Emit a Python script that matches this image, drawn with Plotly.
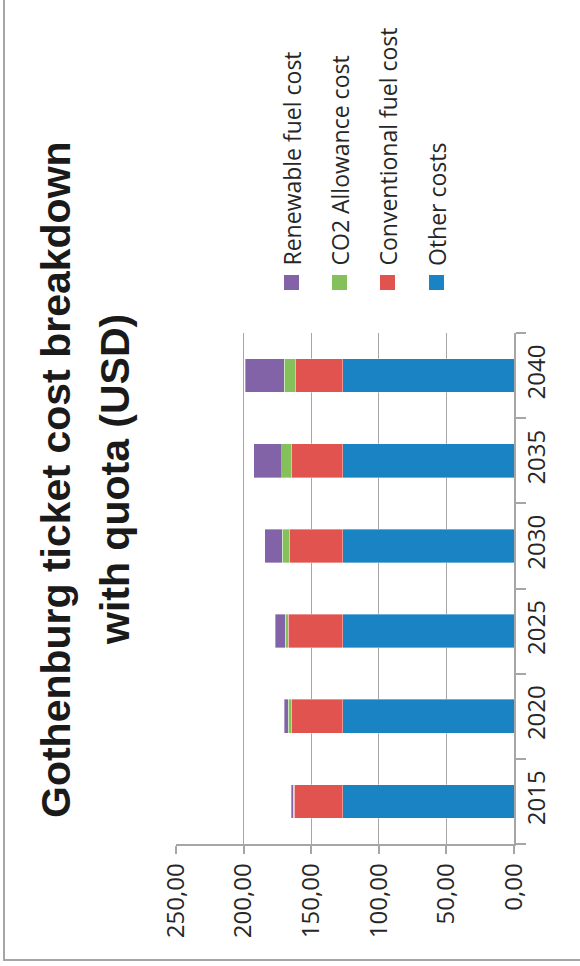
import plotly.graph_objects as go

years = ["2015", "2020", "2025", "2030", "2035", "2040"]
other_costs = [126.5, 126.5, 126.5, 126.5, 126.5, 126.5]
conventional_fuel = [35.9, 38.2, 40.4, 39.7, 38.2, 35.2]
co2_allowance = [0.7, 2.2, 2.3, 5.2, 7.2, 8.4]
renewable_fuel = [1.5, 3.2, 7.4, 13.1, 20.7, 28.6]

series_names = ["Other costs", "Conventional fuel cost", "CO2 Allowance cost", "Renewable fuel cost"]
series_values = [other_costs, conventional_fuel, co2_allowance, renewable_fuel]
colors = ["#1A83C3", "#E1534F", "#85C15A", "#8263A8"]

value_ticks = [0, 50, 100, 150, 200, 250]
value_tick_text = ["0,00", "50,00", "100,00", "150,00", "200,00", "250,00"]

W, H = 580, 966
ML, MR, MT, MB = 176, 66, 333, 122
PW = W - ML - MR
PH = H - MT - MB

def px(x):
    return (x - ML) / PW

def py(y):
    return (H - MB - y) / PH

fig = go.Figure()
for name, vals, col in zip(series_names, series_values, colors):
    fig.add_trace(go.Bar(
        y=years, x=vals, name=name, orientation="h",
        marker=dict(color=col, line=dict(color="rgba(255,255,255,0.6)", width=0.6)),
        showlegend=False,
    ))

grid = "#A6A6A6"
tickfont = dict(family="Open Sans, Noto Sans, sans-serif", size=24, color="#262626")

fig.update_layout(
    width=W, height=H,
    margin=dict(l=ML, r=MR, t=MT, b=MB, autoexpand=False),
    barmode="stack", bargap=0.605,
    plot_bgcolor="white", paper_bgcolor="white",
    xaxis=dict(
        range=[250, 0], tickvals=value_ticks, ticktext=value_tick_text,
        tickangle=-90, tickfont=tickfont, showgrid=True, gridcolor=grid, gridwidth=1.3,
        showline=True, linecolor=grid, linewidth=1.5, ticks="outside", ticklen=8,
        tickcolor=grid, tickwidth=1.5, zeroline=False,
    ),
    yaxis=dict(
        type="category", categoryorder="array", categoryarray=years, side="right",
        tickangle=-90, tickfont=tickfont, showline=True, linecolor=grid, linewidth=1.5,
        ticks="outside", ticklen=10, tickcolor=grid, tickwidth=1.5, tickson="boundaries",
        showgrid=False, zeroline=False,
    ),
)

shapes = []
annotations = []

# border (left and bottom visible)
shapes.append(dict(type="rect", xref="paper", yref="paper",
                   x0=px(4), x1=px(620), y0=py(960), y1=py(-20),
                   line=dict(color="#A6A6A6", width=2), fillcolor="rgba(0,0,0,0)", layer="below"))

# title
title_font = dict(family="Liberation Sans Narrow, Arial Narrow, sans-serif", size=41, color="#1A1A1A")
annotations.append(dict(xref="paper", yref="paper", x=px(56), y=py(480), xanchor="center", yanchor="middle",
                        text="<b>Gothenburg ticket cost breakdown</b>", textangle=-90, showarrow=False, font=title_font))
annotations.append(dict(xref="paper", yref="paper", x=px(115), y=py(480), xanchor="center", yanchor="middle",
                        text="<b>with quota (USD)</b>", textangle=-90, showarrow=False, font=title_font))

# legend
legend_names = ["Renewable fuel cost", "CO2 Allowance cost", "Conventional fuel cost", "Other costs"]
legend_colors = ["#8263A8", "#85C15A", "#E1534F", "#1A83C3"]
legend_x = [291.5, 339.5, 387.5, 436.5]
legend_font = dict(family="Open Sans, Noto Sans, sans-serif", size=23, color="#262626")
for name, col, cx in zip(legend_names, legend_colors, legend_x):
    shapes.append(dict(type="rect", xref="paper", yref="paper",
                       x0=px(cx - 7.5), x1=px(cx + 7.5), y0=py(290), y1=py(275),
                       line=dict(width=0), fillcolor=col))
    annotations.append(dict(xref="paper", yref="paper", x=px(cx), y=py(268), xanchor="center", yanchor="bottom",
                            text=name, textangle=-90, showarrow=False, font=legend_font))

fig.update_layout(shapes=shapes, annotations=annotations)
fig.write_html("out.html", config={"displayModeBar": False},
               post_script="document.body.style.margin='0px';document.body.style.overflow='hidden';")
